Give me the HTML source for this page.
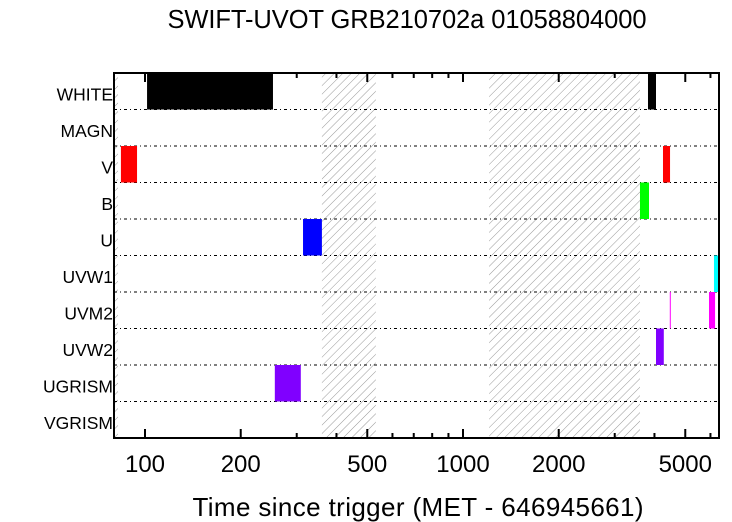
<!DOCTYPE html>
<html><head><meta charset="utf-8"><style>body{margin:0;background:#fff}svg{display:block}text{font-family:"Liberation Sans",sans-serif}</style></head>
<body>
<svg id="c" width="732" height="522">
<defs><pattern id="hatch" width="6" height="6" patternUnits="userSpaceOnUse" patternTransform="rotate(45)"><line x1="0" y1="0" x2="0" y2="6" stroke="#999" stroke-width="1"/></pattern></defs>
<text x="407" y="28" font-size="25.5" text-anchor="middle" textLength="479">SWIFT-UVOT GRB210702a 01058804000</text>
<text x="418" y="516" font-size="26" text-anchor="middle" textLength="451">Time since trigger (MET - 646945661)</text>
<g id="plot"></g>
</svg>
<script>
const filters = ["WHITE","MAGN","V","B","U","UVW1","UVM2","UVW2","UGRISM","VGRISM"];
const hatchStarts = [360, 1208];
const hatchEnds = [532, 3602];
const barFilter = ["WHITE","WHITE","V","V","B","U","UVW1","UVM2","UVM2","UVW2","UGRISM"];
const barStart = [101.5, 3817, 84, 4255, 3602, 314, 6155, 4470, 5937, 4045, 256];
const barEnd = [252.6, 4045, 94.4, 4478, 3845, 360, 6383, 4490, 6204, 4280, 309];
const barColor = ["#000","#000","#f00","#f00","#0f0","#00f","#0ff","#f0f","#f0f","#8000ff","#8000ff"];
const tickLabels = [100,200,500,1000,2000,5000];

const L=114,R=719,T=73,B=438;
const x=t=>145+(Math.log10(t)-2)*318;
const rowH=(B-T)/filters.length;
const y=f=>T+filters.indexOf(f)*rowH;
const NS="http://www.w3.org/2000/svg";
const g=document.getElementById('plot');
function mk(tag,a){const e=document.createElementNS(NS,tag);for(const k in a)e.setAttribute(k,a[k]);g.appendChild(e);return e;}

let lh=mk('rect',{x:L,y:T,width:4,height:B-T,fill:'url(#hatch)'});


hatchStarts.forEach((s,i)=>{
  const r=mk('rect',{x:x(s),y:T,width:x(hatchEnds[i])-x(s),height:B-T,fill:'url(#hatch)'});
  
  
});
filters.forEach((f,i)=>{
  const ln=mk('line',{x1:L,x2:R,y1:y(f)+rowH,y2:y(f)+rowH,stroke:'#000','stroke-width':1,'stroke-dasharray':'3,3,1,3'});
  
  
  const t=mk('text',{x:113,y:y(f)+rowH/2+9,'font-size':17.5,'text-anchor':'end'});
  t.textContent=f;
  
  
});
barStart.forEach((s,i)=>{
  const w=Math.max(1,x(barEnd[i])-x(s));
  const r=mk('rect',{x:x(s),y:y(barFilter[i]),width:w,height:rowH,fill:barColor[i]});
  
  
});
const minor=[];
for(let d=100;d<=1000;d*=10)for(let k=1;k<10;k++)minor.push(k*d);
minor.filter(v=>x(v)>=L&&x(v)<=R).forEach(v=>{
  const major=tickLabels.includes(v);const len=major?9:5;
  const a=mk('line',{x1:x(v),x2:x(v),y1:B,y2:B-len,stroke:'#000','stroke-width':2});
  
  
  const b=mk('line',{x1:x(v),x2:x(v),y1:T,y2:T+len,stroke:'#000','stroke-width':2});
  
  
});
tickLabels.forEach(v=>{
  const t=mk('text',{x:x(v),y:472,'font-size':24,'text-anchor':'middle'});
  t.textContent=v;
  
  
});
const fr=mk('rect',{x:L,y:T,width:R-L,height:B-T,fill:'none',stroke:'#000','stroke-width':2});


</script>
</body></html>
